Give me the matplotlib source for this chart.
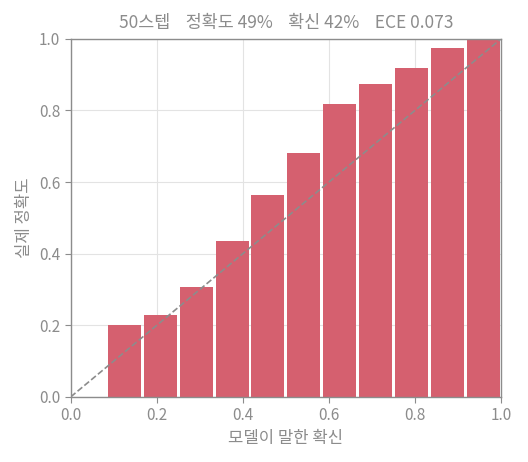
import numpy as np
import matplotlib
matplotlib.use("Agg")
import matplotlib.pyplot as plt

plt.rcParams['font.family'] = ['Noto Sans CJK KR', 'DejaVu Sans']

# 12 confidence bins, first one empty
n_bins = 12
bin_idx = [1, 2, 3, 4, 5, 6, 7, 8, 9, 10, 11]
accuracy = [0.200, 0.228, 0.306, 0.434, 0.565, 0.680, 0.818, 0.875, 0.919, 0.975, 1.0]
title = "50스텝    정확도 49%    확신 42%    ECE 0.073"

grey = '#8c8c8c'
bar_col = '#d5606f'

fig, ax = plt.subplots(figsize=(5.28, 4.62), dpi=100)
fig.subplots_adjust(left=0.134, right=0.949, bottom=0.141, top=0.916)

w = 1.0 / n_bins
centers = [(i + 0.5) * w for i in bin_idx]
ax.bar(centers, accuracy, width=w * 0.92, color=bar_col, zorder=2)
ax.plot([0, 1], [0, 1], '--', color=grey, lw=1.2, zorder=3)

ax.set_xlim(0, 1)
ax.set_ylim(0, 1)
ax.set_xticks(np.arange(0, 1.01, 0.2))
ax.set_yticks(np.arange(0, 1.01, 0.2))
ax.grid(True, color='#e3e3e3', lw=0.8, zorder=0)
ax.set_axisbelow(True)
for s in ax.spines.values():
    s.set_color(grey)
    s.set_linewidth(1.0)
ax.tick_params(colors=grey, labelcolor=grey, labelsize=11, length=4)

ax.set_xlabel("모델이 말한 확신", color=grey, fontsize=12)
ax.set_ylabel("실제 정확도", color=grey, fontsize=12)
ax.set_title(title, color=grey, fontsize=12.5, pad=8)

fig.savefig("out.png", dpi=100)
